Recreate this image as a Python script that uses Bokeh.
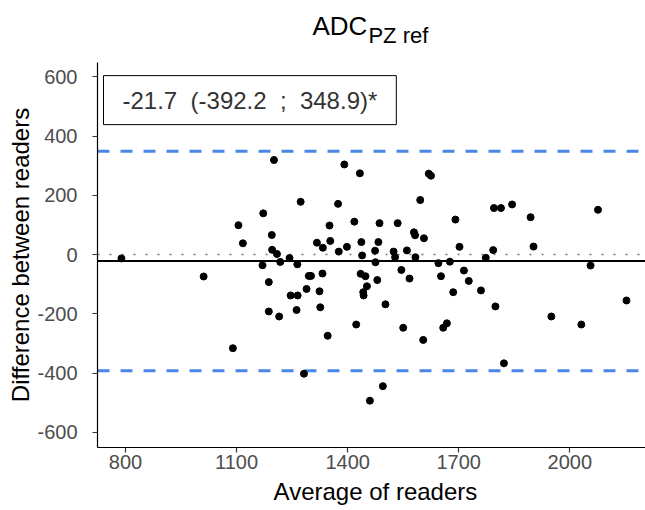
from bokeh.plotting import figure
from bokeh.layouts import column
from bokeh.models import (Range1d, FixedTicker, Span, Label, ColumnDataSource,
                          CustomJSTickFormatter)
from bokeh.core.properties import value
from bokeh.embed import file_html
from bokeh.resources import INLINE

# ---- data ----
avg = [789, 1011, 1090, 1105, 1117, 1170, 1172, 1187, 1187, 1195,
       1196, 1201, 1209, 1215, 1218, 1243, 1246, 1262, 1264, 1265,
       1273, 1282, 1289, 1295, 1301, 1317, 1324, 1326, 1332, 1333,
       1346, 1351, 1353, 1374, 1376, 1391, 1398, 1418, 1423, 1433,
       1437, 1439, 1435, 1448, 1452, 1442, 1443, 1460, 1474, 1475,
       1480, 1483, 1486, 1495, 1502, 1524, 1528, 1535, 1545, 1550,
       1560, 1567, 1579, 1582, 1583, 1596, 1604, 1606, 1619, 1625,
       1645, 1652, 1658, 1668, 1676, 1685, 1691, 1702, 1714, 1727,
       1760, 1773, 1793, 1795, 1799, 1814, 1822, 1844, 1894, 1902,
       1950, 2031, 2056, 2076, 2153]
diff = [-13, -74, -316, 99, 38, -36, 139, -93, -192, 66,
        16, 319, 2, -209, -25, -12, -138, -187, -33, -138,
        178, -402, -116, -72, -72, 40, -124, -178, -64, 23,
        -274, 98, 46, 171, 10, 304, 26, 111, -236, 274,
        42, -3, -65, -73, -107, -127, -138, -493, 13, -26,
        -86, 42, 106, -444, -168, 10, -9, 106, -52, -247,
        14, -81, 75, 65, -9, 184, -288, 55, 273, 266,
        -29, -73, -247, -232, -24, -127, 118, 26, -54, -89,
        -121, -11, 15, 157, -175, 157, -367, 169, 126, 27,
        -209, -236, -37, 151, -155]

bias = -21.7
loa_lower = -392.2
loa_upper = 348.9
stats_text = "-21.7\u00a0 (-392.2\u00a0 ;\u00a0 348.9)*"

x_ticks = [800, 1100, 1400, 1700, 2000]
y_ticks = [-600, -400, -200, 0, 200, 400, 600]

title_main = "ADC"
title_sub = "PZ ref"
x_title = "Average of readers"
y_title = "Difference between readers"

FONT = "Liberation Sans"
W = 645
X0, X1 = 724.4, 2204.3
BORDERS = dict(min_border_left=97, min_border_right=0)


def bare(fig):
    fig.grid.visible = False
    fig.outline_line_color = None
    fig.background_fill_color = "white"
    fig.border_fill_color = "white"


# ---- title strip ----
t = figure(width=W, height=62, output_backend="svg", toolbar_location=None,
           x_range=Range1d(X0, X1), y_range=Range1d(0, 62),
           min_border_top=0, min_border_bottom=0, **BORDERS,
           x_axis_location=None, y_axis_location=None)
bare(t)
t.text(x=[1305], y=[36.5], text=[title_main], text_font=value(FONT),
       text_font_size="26px", text_color="black", text_align="left",
       text_baseline="alphabetic")
t.text(x=[1456], y=[26.7], text=[title_sub], text_font=value(FONT),
       text_font_size="22px", text_color="black", text_align="left",
       text_baseline="alphabetic")

# ---- main plot ----
p = figure(width=W, height=417, output_backend="svg", toolbar_location=None,
           x_range=Range1d(X0, X1), y_range=Range1d(-651, 648),
           min_border_top=0, min_border_bottom=32, **BORDERS)
bare(p)

for ax in (p.xaxis[0], p.yaxis[0]):
    ax.axis_line_color = "black"
    ax.axis_line_width = 1.2
    ax.major_tick_line_color = "#333333"
    ax.major_tick_line_width = 1.2
    ax.major_tick_out = 5
    ax.major_tick_in = 0
    ax.minor_tick_line_color = None
    ax.major_label_text_color = "#4D4D4D"
    ax.major_label_text_font = FONT
    ax.major_label_text_font_size = "20px"
    ax.axis_label_text_font = FONT
    ax.axis_label_text_font_size = "24px"
    ax.axis_label_text_font_style = "normal"
    ax.axis_label_text_color = "black"
    ax.formatter = CustomJSTickFormatter(code="return tick.toFixed(0);")

p.xaxis[0].ticker = FixedTicker(ticks=x_ticks)
p.yaxis[0].ticker = FixedTicker(ticks=y_ticks)
p.yaxis[0].axis_label = y_title
p.xaxis[0].major_label_standoff = 2
p.yaxis[0].major_label_standoff = 15
p.yaxis[0].axis_label_standoff = 0

# reference lines
p.add_layout(Span(location=0, dimension="width", line_color="#7a7a7a",
                  line_width=1.5, line_dash="2 10", level="underlay"))
p.add_layout(Span(location=bias, dimension="width", line_color="black",
                  line_width=2, level="underlay"))
for loc in (loa_lower, loa_upper):
    p.add_layout(Span(location=loc, dimension="width", line_color="#4A86E8",
                      line_width=3, line_dash="12 11", level="underlay"))

src = ColumnDataSource(dict(avg=avg, diff=diff))
p.scatter("avg", "diff", source=src, size=7, color="black")

# stats box
p.add_layout(Label(x=1136, y=521, text=stats_text, text_align="center",
                   text_baseline="middle", text_font=FONT,
                   text_font_size="24px", text_color="#333333",
                   border_line_color="black", border_line_width=1,
                   background_fill_color="white",
                   padding=dict(left=19, right=19, top=11, bottom=11)))

# ---- x-axis title strip ----
b = figure(width=W, height=31, output_backend="svg", toolbar_location=None,
           x_range=Range1d(X0, X1), y_range=Range1d(0, 31),
           min_border_top=0, min_border_bottom=0, **BORDERS,
           x_axis_location=None, y_axis_location=None)
bare(b)
b.text(x=[1475], y=[19.5], text=[x_title], text_font=value(FONT),
       text_font_size="24px", text_color="black", text_align="center",
       text_baseline="alphabetic")

layout = column(t, p, b, spacing=0)
open("out.html", "w").write(file_html(layout, INLINE))
